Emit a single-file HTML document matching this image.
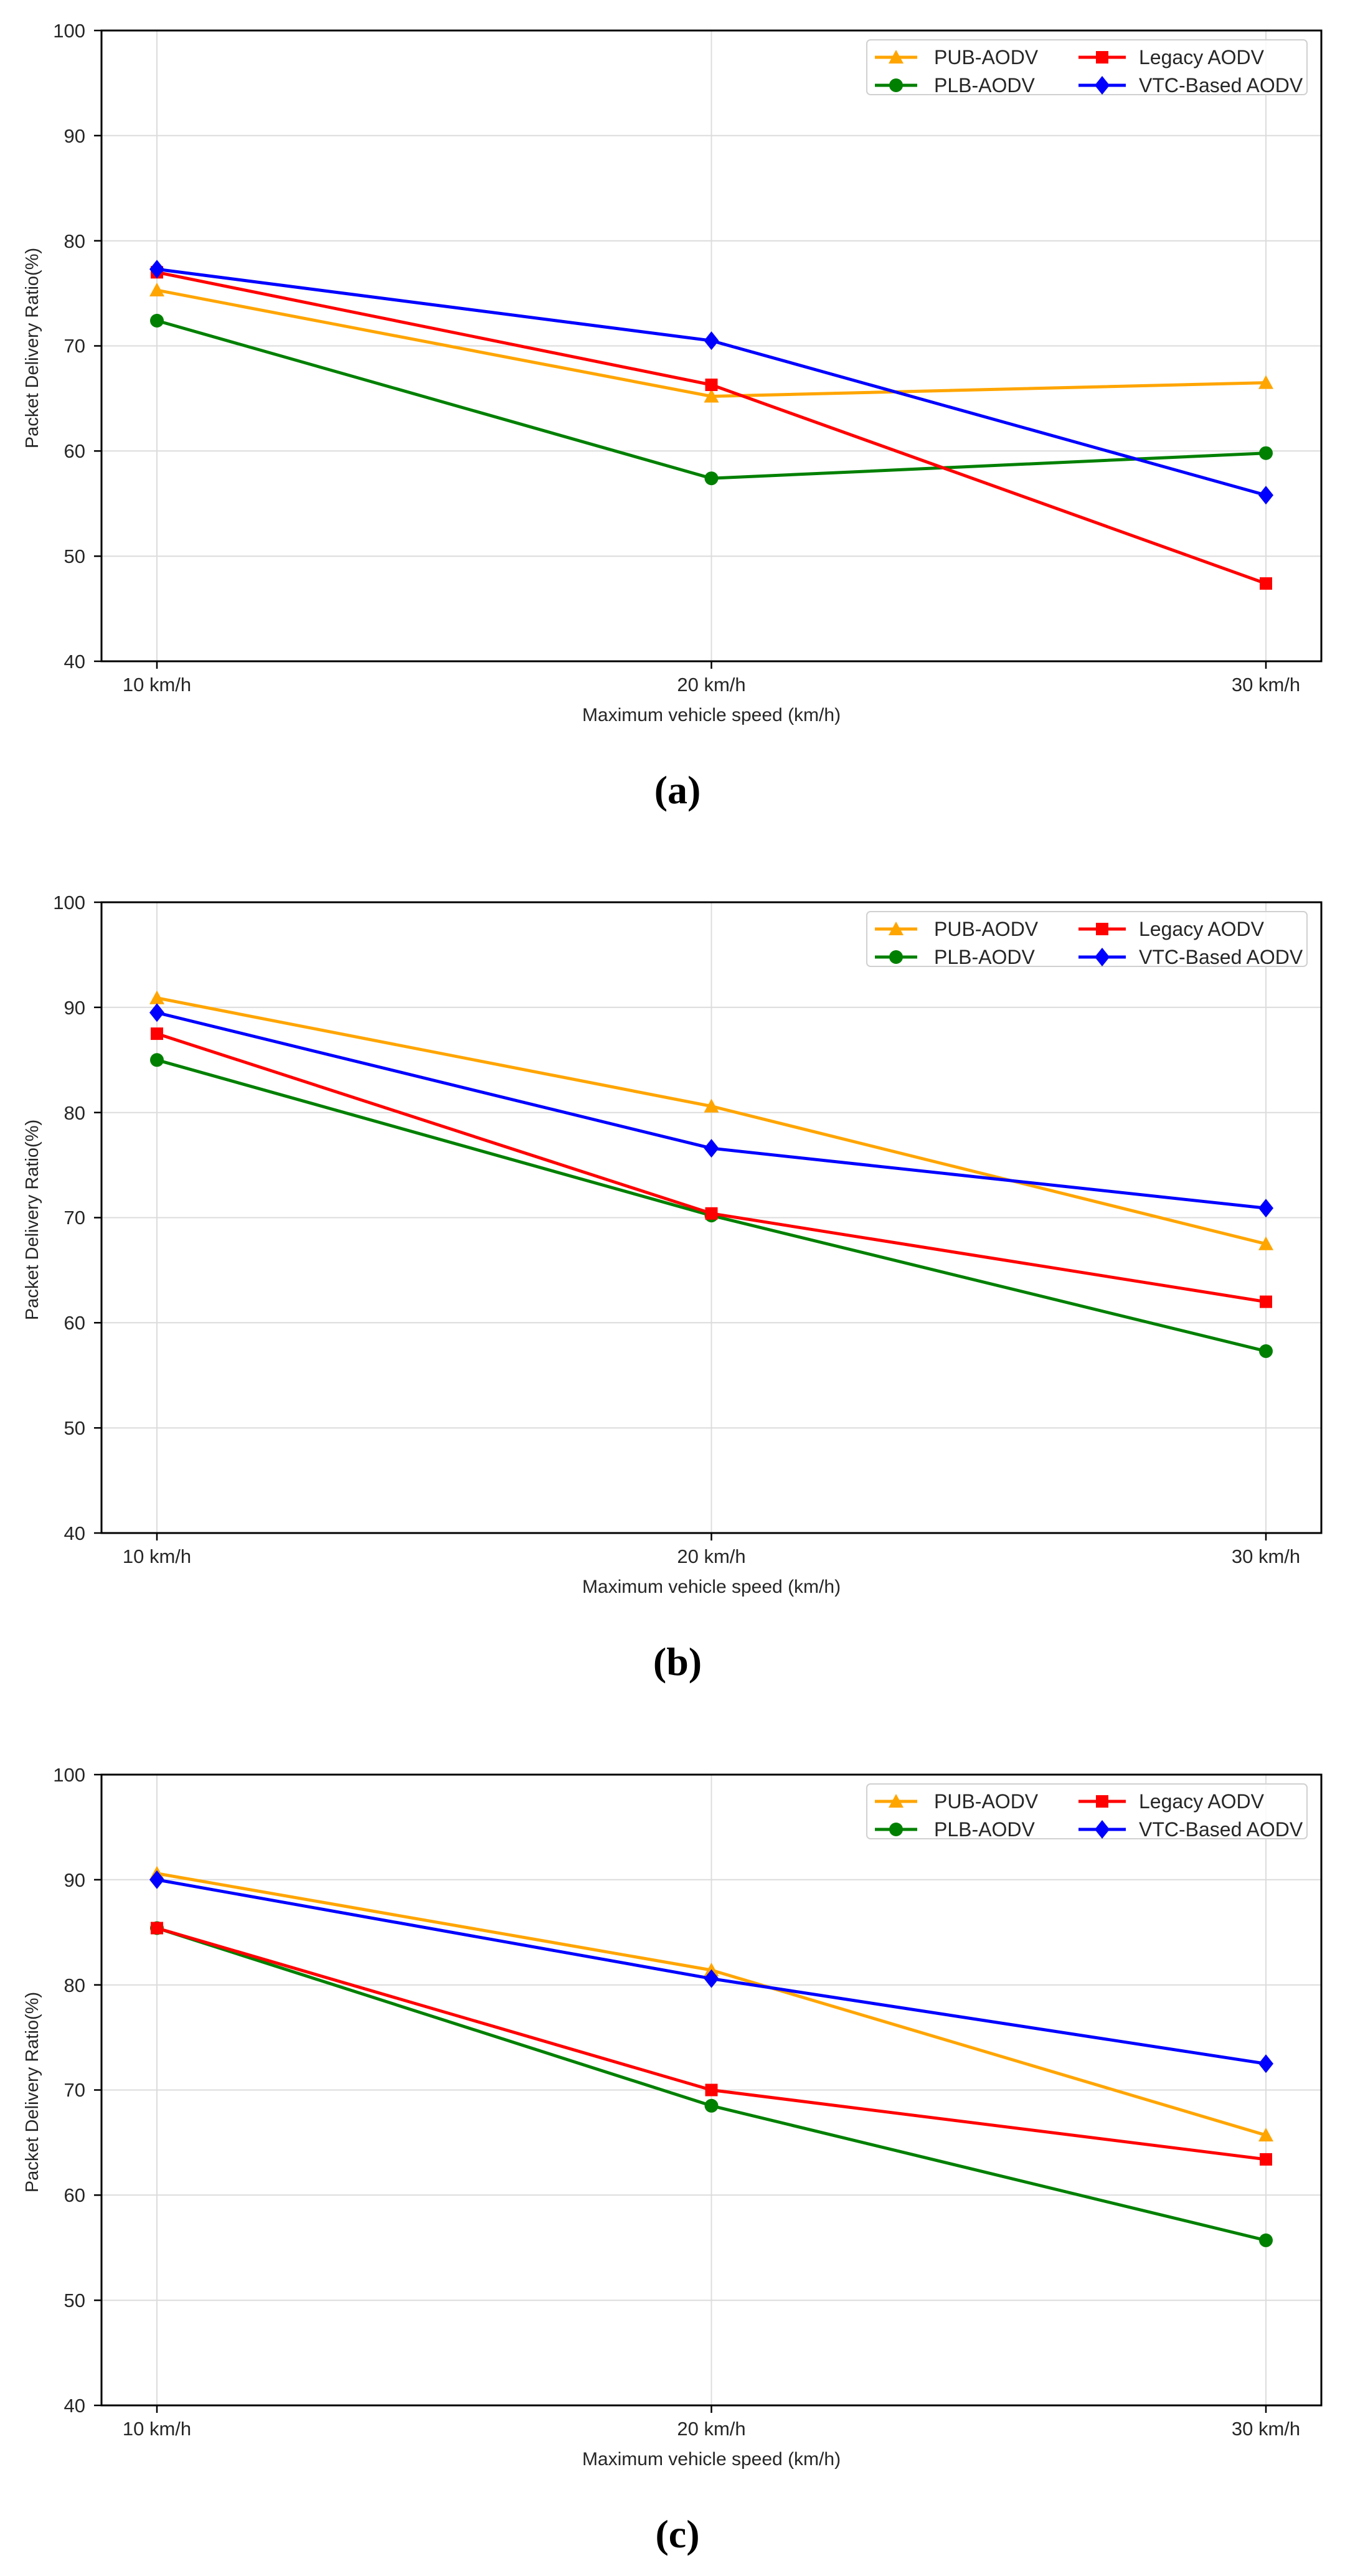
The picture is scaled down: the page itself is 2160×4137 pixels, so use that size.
<!DOCTYPE html>
<html><head><meta charset="utf-8"><style>
html,body{margin:0;padding:0;background:#fff;}
svg{display:block;}
text{font-family:"Liberation Sans","DejaVu Sans",sans-serif;fill:#262626;}
.t{font-size:31px;}
.lg{font-size:32px;fill:#1a1a1a;}
.cap{font-family:"Liberation Serif",serif;font-weight:bold;font-size:64px;fill:#000;}
.grid{stroke:#dcdcdc;stroke-width:2;}
.ln{fill:none;stroke-width:5;stroke-linejoin:round;}
</style></head><body>
<svg width="2160" height="4137" viewBox="0 0 2160 4137" xmlns="http://www.w3.org/2000/svg">
<defs>
<marker id="mt" markerUnits="userSpaceOnUse" markerWidth="26" markerHeight="26" refX="13" refY="13" overflow="visible"><polygon points="13,1 25,23 1,23" fill="#FFA500"/></marker>
<marker id="mc" markerUnits="userSpaceOnUse" markerWidth="26" markerHeight="26" refX="13" refY="13" overflow="visible"><circle cx="13" cy="13" r="11" fill="#008000"/></marker>
<marker id="ms" markerUnits="userSpaceOnUse" markerWidth="26" markerHeight="26" refX="13" refY="13" overflow="visible"><rect x="3" y="3" width="20" height="20" fill="#FF0000"/></marker>
<marker id="md" markerUnits="userSpaceOnUse" markerWidth="26" markerHeight="30" refX="13" refY="15" overflow="visible"><polygon points="13,0 25,15 13,30 1,15" fill="#0000FF"/></marker>
<g id="frame">
<g class="grid">
<line x1="252" y1="49" x2="252" y2="1062"/><line x1="1142.5" y1="49" x2="1142.5" y2="1062"/><line x1="2033" y1="49" x2="2033" y2="1062"/>
<line x1="163" y1="217.8" x2="2122" y2="217.8"/><line x1="163" y1="386.7" x2="2122" y2="386.7"/><line x1="163" y1="555.5" x2="2122" y2="555.5"/><line x1="163" y1="724.3" x2="2122" y2="724.3"/><line x1="163" y1="893.2" x2="2122" y2="893.2"/>
</g>
<g stroke="#000" stroke-width="2.5">
<line x1="151" y1="49" x2="163" y2="49"/><line x1="151" y1="217.8" x2="163" y2="217.8"/><line x1="151" y1="386.7" x2="163" y2="386.7"/><line x1="151" y1="555.5" x2="163" y2="555.5"/><line x1="151" y1="724.3" x2="163" y2="724.3"/><line x1="151" y1="893.2" x2="163" y2="893.2"/><line x1="151" y1="1062" x2="163" y2="1062"/>
<line x1="252" y1="1062" x2="252" y2="1074"/><line x1="1142.5" y1="1062" x2="1142.5" y2="1074"/><line x1="2033" y1="1062" x2="2033" y2="1074"/>
</g>
<rect x="163" y="49" width="1959" height="1013" fill="none" stroke="#000" stroke-width="3"/>
</g>
<g id="legend">
<rect x="1392" y="64" width="707" height="88" rx="6" fill="#fff" fill-opacity="0.85" stroke="#d0d0d0" stroke-width="2"/>
<polyline points="1405,92 1439,92 1473,92" fill="none" stroke="#FFA500" stroke-width="5" marker-mid="url(#mt)"/>
<polyline points="1405,137 1439,137 1473,137" fill="none" stroke="#008000" stroke-width="5" marker-mid="url(#mc)"/>
<polyline points="1732,92 1770,92 1808,92" fill="none" stroke="#FF0000" stroke-width="5" marker-mid="url(#ms)"/>
<polyline points="1732,137 1770,137 1808,137" fill="none" stroke="#0000FF" stroke-width="5" marker-mid="url(#md)"/>
</g>
</defs>

<!-- Chart A -->
<g>
<use href="#frame"/>
<g class="t" text-anchor="end">
<text x="137" y="60">100</text><text x="137" y="229">90</text><text x="137" y="398">80</text><text x="137" y="566">70</text><text x="137" y="735">60</text><text x="137" y="904">50</text><text x="137" y="1073">40</text>
</g>
<g class="t" text-anchor="middle">
<text x="252" y="1110">10 km/h</text><text x="1142.5" y="1110">20 km/h</text><text x="2033" y="1110">30 km/h</text>
<text x="1142.5" y="1158" style="font-size:30px">Maximum vehicle speed (km/h)</text>
</g>
<text class="t" style="font-size:29px" text-anchor="middle" transform="translate(61,559) rotate(-90)">Packet Delivery Ratio(%)</text>
<polyline class="ln" stroke="#FFA500" points="252,466 1142.5,636.5 2033,614.6" marker-start="url(#mt)" marker-mid="url(#mt)" marker-end="url(#mt)"/>
<polyline class="ln" stroke="#008000" points="252,515 1142.5,768.2 2033,727.7" marker-start="url(#mc)" marker-mid="url(#mc)" marker-end="url(#mc)"/>
<polyline class="ln" stroke="#FF0000" points="252,437.3 1142.5,618 2033,937.1" marker-start="url(#ms)" marker-mid="url(#ms)" marker-end="url(#ms)"/>
<polyline class="ln" stroke="#0000FF" points="252,432.3 1142.5,547.1 2033,795.2" marker-start="url(#md)" marker-mid="url(#md)" marker-end="url(#md)"/>
<use href="#legend"/>
<g class="lg"><text x="1500" y="103">PUB-AODV</text><text x="1500" y="148">PLB-AODV</text><text x="1829" y="103">Legacy AODV</text><text x="1829" y="148">VTC-Based AODV</text></g>
<text class="cap" x="1088" y="1290" text-anchor="middle">(a)</text>
</g>

<!-- Chart B -->
<g transform="translate(0,1400)">
<use href="#frame"/>
<g class="t" text-anchor="end">
<text x="137" y="60">100</text><text x="137" y="229">90</text><text x="137" y="398">80</text><text x="137" y="566">70</text><text x="137" y="735">60</text><text x="137" y="904">50</text><text x="137" y="1073">40</text>
</g>
<g class="t" text-anchor="middle">
<text x="252" y="1110">10 km/h</text><text x="1142.5" y="1110">20 km/h</text><text x="2033" y="1110">30 km/h</text>
<text x="1142.5" y="1158" style="font-size:30px">Maximum vehicle speed (km/h)</text>
</g>
<text class="t" style="font-size:29px" text-anchor="middle" transform="translate(61,559) rotate(-90)">Packet Delivery Ratio(%)</text>
<polyline class="ln" stroke="#FFA500" points="252,202.7 1142.5,376.6 2033,597.7" marker-start="url(#mt)" marker-mid="url(#mt)" marker-end="url(#mt)"/>
<polyline class="ln" stroke="#008000" points="252,302.3 1142.5,552.1 2033,769.9" marker-start="url(#mc)" marker-mid="url(#mc)" marker-end="url(#mc)"/>
<polyline class="ln" stroke="#FF0000" points="252,260.1 1142.5,548.8 2033,690.6" marker-start="url(#ms)" marker-mid="url(#ms)" marker-end="url(#ms)"/>
<polyline class="ln" stroke="#0000FF" points="252,226.3 1142.5,444.1 2033,540.3" marker-start="url(#md)" marker-mid="url(#md)" marker-end="url(#md)"/>
<use href="#legend"/>
<g class="lg"><text x="1500" y="103">PUB-AODV</text><text x="1500" y="148">PLB-AODV</text><text x="1829" y="103">Legacy AODV</text><text x="1829" y="148">VTC-Based AODV</text></g>
<text class="cap" x="1088" y="1290" text-anchor="middle">(b)</text>
</g>

<!-- Chart C -->
<g transform="translate(0,2801)">
<use href="#frame"/>
<g class="t" text-anchor="end">
<text x="137" y="60">100</text><text x="137" y="229">90</text><text x="137" y="398">80</text><text x="137" y="566">70</text><text x="137" y="735">60</text><text x="137" y="904">50</text><text x="137" y="1073">40</text>
</g>
<g class="t" text-anchor="middle">
<text x="252" y="1110">10 km/h</text><text x="1142.5" y="1110">20 km/h</text><text x="2033" y="1110">30 km/h</text>
<text x="1142.5" y="1158" style="font-size:30px">Maximum vehicle speed (km/h)</text>
</g>
<text class="t" style="font-size:29px" text-anchor="middle" transform="translate(61,559) rotate(-90)">Packet Delivery Ratio(%)</text>
<polyline class="ln" stroke="#FFA500" points="252,207.7 1142.5,363 2033,628.1" marker-start="url(#mt)" marker-mid="url(#mt)" marker-end="url(#mt)"/>
<polyline class="ln" stroke="#008000" points="252,295.5 1142.5,580.8 2033,796.9" marker-start="url(#mc)" marker-mid="url(#mc)" marker-end="url(#mc)"/>
<polyline class="ln" stroke="#FF0000" points="252,295.5 1142.5,555.5 2033,666.9" marker-start="url(#ms)" marker-mid="url(#ms)" marker-end="url(#ms)"/>
<polyline class="ln" stroke="#0000FF" points="252,217.8 1142.5,376.6 2033,513.3" marker-start="url(#md)" marker-mid="url(#md)" marker-end="url(#md)"/>
<use href="#legend"/>
<g class="lg"><text x="1500" y="103">PUB-AODV</text><text x="1500" y="148">PLB-AODV</text><text x="1829" y="103">Legacy AODV</text><text x="1829" y="148">VTC-Based AODV</text></g>
<text class="cap" x="1088" y="1290" text-anchor="middle">(c)</text>
</g>
</svg>
</body></html>
